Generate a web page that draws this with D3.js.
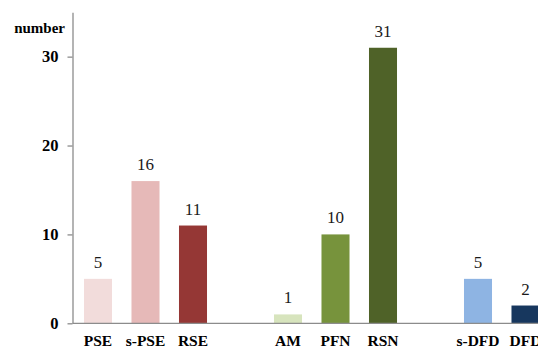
<!DOCTYPE html>
<html>
<head>
<meta charset="utf-8">
<script src="https://cdn.jsdelivr.net/npm/d3@7"></script>
<style>
  html, body { margin: 0; padding: 0; background: #fff; overflow: hidden; }
  svg { display: block; }
  svg text { font-family: 'Liberation Serif', 'Times New Roman', serif; }
</style>
</head>
<body>
<svg id="chart" width="538" height="349"></svg>
<script>
// Counts per category; the three groups are separated by an empty slot.
const categories = ["PSE", "s-PSE", "RSE", "AM", "PFN", "RSN", "s-DFD", "DFD"];
const groups     = [0, 0, 0, 1, 1, 1, 2, 2];
const values     = [5, 16, 11, 1, 10, 31, 5, 2];
const colors     = ["#f2dcdb", "#e6b9b8", "#953735", "#d7e4bd", "#77933c", "#4f6228", "#8eb4e3", "#17375e"];
const yTicks     = [0, 10, 20, 30];
const yLabel     = "number";

const FONT = "'Liberation Serif', 'Times New Roman', serif";

const svg = d3.select("#chart");
const axisX = 72.5;

// Each category occupies a slot; a blank slot sits between groups.
const slots = categories.map((c, i) => i + groups[i]);
const x = d3.scaleBand()
  .domain(d3.range(10))
  .range([74.25, 549.25])
  .paddingInner(0.41)
  .paddingOuter(0.205);

const y = d3.scaleLinear()
  .domain([0, 35])
  .range([323.3, 12.2]);

// Bars
svg.append("g").selectAll("rect")
  .data(values)
  .join("rect")
  .attr("x", (d, i) => x(slots[i]))
  .attr("y", d => y(d))
  .attr("width", x.bandwidth())
  .attr("height", d => y(0) - y(d))
  .attr("fill", (d, i) => colors[i]);

// Value labels
svg.append("g").selectAll("text")
  .data(values)
  .join("text")
  .attr("x", (d, i) => x(slots[i]) + x.bandwidth() / 2)
  .attr("y", d => y(d) - 11)
  .attr("text-anchor", "middle")
  .style("font-family", FONT)
  .style("font-size", "17px")
  .attr("fill", "#1a1a1a")
  .text(d => d);

// Y axis
const yAxis = svg.append("g")
  .attr("transform", `translate(${axisX},0)`)
  .call(d3.axisLeft(y).tickValues(yTicks).tickSize(5).tickPadding(9).tickSizeOuter(0));
yAxis.select(".domain").attr("stroke", "#8c8c8c").attr("stroke-width", 1.3);
yAxis.selectAll(".tick line").attr("stroke", "#8c8c8c").attr("stroke-width", 1.3);
yAxis.selectAll(".tick text")
  .style("font-family", FONT)
  .style("font-size", "16.5px")
  .style("font-weight", "bold")
  .attr("fill", "#000");

// Baseline
svg.append("line")
  .attr("x1", axisX).attr("x2", 538)
  .attr("y1", y(0)).attr("y2", y(0))
  .attr("stroke", "#8c8c8c").attr("stroke-width", 1.3);

// Axis title
svg.append("text")
  .attr("x", 65).attr("y", 33)
  .attr("text-anchor", "end")
  .style("font-family", FONT)
  .style("font-size", "15px")
  .style("font-weight", "bold")
  .text(yLabel);

// Category labels
svg.append("g").selectAll("text")
  .data(categories)
  .join("text")
  .attr("x", (d, i) => x(slots[i]) + x.bandwidth() / 2)
  .attr("y", 346)
  .attr("text-anchor", "middle")
  .style("font-family", FONT)
  .style("font-size", "15.5px")
  .style("font-weight", "bold")
  .text(d => d);
</script>
</body>
</html>
